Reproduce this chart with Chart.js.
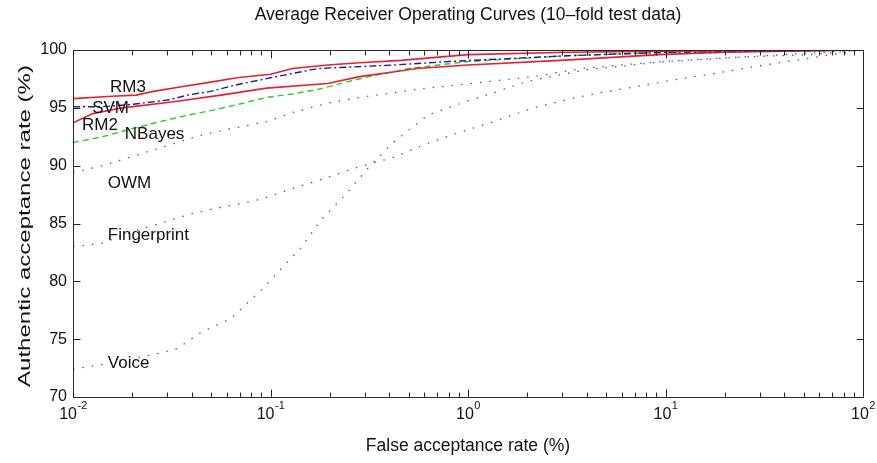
<!DOCTYPE html>
<html><head><meta charset="utf-8">
<script src="https://cdn.jsdelivr.net/npm/chart.js@4.4.1/dist/chart.umd.min.js"></script>
<style>html,body{margin:0;padding:0;background:#fff;}#wrap{width:877px;height:463px;position:relative;}</style>
</head><body><div id="wrap"><canvas id="c"></canvas></div>
<script>
const chartTitle = 'Average Receiver Operating Curves (10\u2013fold test data)';
const xAxisTitle = 'False acceptance rate (%)';
const yAxisTitle = 'Authentic acceptance rate (%)';
const xTickValues = [0.01, 0.1, 1, 10, 100];
const xTickExponents = ['-2', '-1', '0', '1', '2'];
const yTickValues = [70, 75, 80, 85, 90, 95, 100];

const seriesNames = ['RM3', 'SVM', 'RM2', 'NBayes', 'OWM', 'Fingerprint', 'Voice'];

const rm3Far  = [0.01, 0.0158, 0.0209, 0.0251, 0.0347, 0.049, 0.0676, 0.1, 0.129, 0.195, 0.282, 0.457, 1, 3.16, 10, 100];
const rm3Rate = [95.8, 96.0, 96.1, 96.4, 96.8, 97.2, 97.6, 97.9, 98.4, 98.7, 98.9, 99.1, 99.6, 99.8, 99.9, 100];

const svmFar  = [0.01, 0.0141, 0.02, 0.0309, 0.038, 0.049, 0.0676, 0.1, 0.174, 0.417, 0.794, 3.16, 10, 100];
const svmRate = [95.1, 95.1, 95.3, 95.7, 96.1, 96.4, 97.0, 97.6, 98.4, 98.7, 99.0, 99.5, 99.8, 100];

const rm2Far  = [0.01, 0.0126, 0.0178, 0.0316, 0.0562, 0.0955, 0.195, 0.282, 0.417, 0.55, 1, 2.95, 9.33, 20, 100];
const rm2Rate = [93.7, 94.5, 95.0, 95.5, 96.1, 96.7, 97.1, 97.7, 98.1, 98.4, 98.7, 99.1, 99.6, 99.8, 100];

const nbFar  = [0.01, 0.0141, 0.02, 0.0275, 0.0389, 0.0513, 0.0724, 0.0955, 0.129, 0.174, 0.251, 0.316, 0.501, 1, 3.16, 10, 100];
const nbRate = [92.0, 92.5, 93.2, 93.8, 94.4, 94.8, 95.4, 95.9, 96.2, 96.6, 97.3, 97.7, 98.4, 99.0, 99.5, 99.8, 100];

const owmFar  = [0.01, 0.0141, 0.0209, 0.0309, 0.0457, 0.0676, 0.0955, 0.129, 0.195, 0.282, 0.417, 0.617, 0.912, 2.14, 3.8, 9.33, 25.1, 53.7, 100];
const owmRate = [89.4, 90.0, 90.9, 91.8, 92.7, 93.3, 93.8, 94.6, 95.4, 95.9, 96.3, 96.7, 97.0, 97.7, 98.4, 99.0, 99.4, 99.6, 100];

const fpFar  = [0.01, 0.0141, 0.02, 0.0275, 0.0407, 0.0603, 0.0891, 0.129, 0.195, 0.282, 0.417, 0.617, 0.912, 1.35, 2.14, 3.55, 5.01, 6.92, 10, 18.2, 31.6, 53.7, 100];
const fpRate = [83.0, 83.3, 84.3, 85.0, 85.9, 86.5, 87.1, 88.0, 89.0, 89.9, 90.7, 91.9, 92.9, 93.8, 95.0, 95.9, 96.4, 96.8, 97.3, 98.0, 98.7, 99.3, 100];

const voiceFar  = [0.01, 0.0138, 0.02, 0.0275, 0.0339, 0.0437, 0.0631, 0.0891, 0.112, 0.141, 0.182, 0.24, 0.316, 0.417, 0.631, 1, 1.35, 2.0, 3.98, 10, 31.6, 100];
const voiceRate = [72.4, 72.8, 73.3, 73.8, 74.2, 75.5, 76.8, 79.2, 81.0, 82.8, 85.4, 87.5, 89.9, 92.0, 94.4, 95.6, 96.3, 97.3, 98.3, 99.0, 99.5, 100];

// text annotations placed at data coordinates (FAR %, rate %)
const labelFar  = [0.0154, 0.0125, 0.0111, 0.0183, 0.0150, 0.0150, 0.0150];
const labelRate = [96.8, 95.0, 93.5, 92.7, 88.5, 84.0, 72.9];

const pts = (xs, ys) => xs.map((v, i) => ({x: v, y: ys[i]}));
const seriesData = [pts(rm3Far, rm3Rate), pts(svmFar, svmRate), pts(rm2Far, rm2Rate), pts(nbFar, nbRate),
                    pts(owmFar, owmRate), pts(fpFar, fpRate), pts(voiceFar, voiceRate)];
const seriesStyle = [
  {c: 'rgb(232,30,50)', w: 1.6, d: []},
  {c: 'rgb(30,30,150)', w: 1.4, d: [7, 3, 2, 3]},
  {c: 'rgb(232,30,50)', w: 1.6, d: []},
  {c: 'rgb(40,205,40)', w: 1.4, d: [6, 4]},
  {c: 'rgb(80,80,185)', w: 1.3, d: [1.5, 8]},
  {c: 'rgb(80,80,185)', w: 1.3, d: [1.5, 8]},
  {c: 'rgb(80,80,185)', w: 1.3, d: [1.5, 8]}
];

const FONT = "'Liberation Sans', Arial, Helvetica, sans-serif";

const decor = {
  id: 'decor',
  afterDraw(chart) {
    const {ctx, chartArea: a, scales: {x, y}} = chart;
    ctx.save();
    ctx.strokeStyle = '#262626';
    ctx.lineWidth = 1;
    const L = Math.round(a.left) + 0.5, R = Math.round(a.right) + 0.5, T = Math.round(a.top) + 0.5, B = Math.round(a.bottom) + 0.5;
    ctx.strokeRect(L, T, R - L, B - T);
    ctx.beginPath();
    yTickValues.forEach(v => {
      const py = Math.round(y.getPixelForValue(v)) + 0.5;
      ctx.moveTo(L, py); ctx.lineTo(L + 7, py);
      ctx.moveTo(R, py); ctx.lineTo(R - 7, py);
    });
    xTickValues.forEach(d => {
      for (let m = 1; m <= 9; m++) {
        const v = d * m;
        if (v > 100.0001) break;
        const px = Math.round(x.getPixelForValue(v)) + 0.5;
        const len = m === 1 ? 8 : 5;
        ctx.moveTo(px, B); ctx.lineTo(px, B - len);
        ctx.moveTo(px, T); ctx.lineTo(px, T + len);
      }
    });
    ctx.stroke();

    // x tick labels 10^n
    ctx.fillStyle = '#111';
    ctx.textBaseline = 'middle';
    ctx.textAlign = 'left';
    xTickValues.forEach((v, i) => {
      const px = x.getPixelForValue(v);
      ctx.font = '16px ' + FONT;
      const wb = ctx.measureText('10').width;
      ctx.font = '11px ' + FONT;
      const we = ctx.measureText(xTickExponents[i]).width;
      const sx = px - (wb + we) / 2;
      ctx.font = '16px ' + FONT;
      ctx.fillText('10', sx, a.bottom + 18);
      ctx.font = '11px ' + FONT;
      ctx.fillText(xTickExponents[i], sx + wb + 0.5, a.bottom + 9);
    });

    // curve labels
    ctx.font = '17px ' + FONT;
    ctx.fillStyle = '#111';
    seriesNames.forEach((n, i) => {
      ctx.fillText(n, x.getPixelForValue(labelFar[i]), y.getPixelForValue(labelRate[i]));
    });

    // y axis title (stretched like the reference)
    ctx.save();
    ctx.translate(26, 226);
    ctx.rotate(-Math.PI / 2);
    ctx.font = '16px ' + FONT;
    ctx.textAlign = 'center';
    const w = ctx.measureText(yAxisTitle).width;
    ctx.scale(322 / w, 1);
    ctx.fillText(yAxisTitle, 0, 0);
    ctx.restore();
    ctx.restore();
  }
};

new Chart(document.getElementById('c'), {
  type: 'line',
  data: {
    datasets: seriesNames.map((n, i) => ({
      label: n,
      data: seriesData[i],
      borderColor: seriesStyle[i].c,
      borderWidth: seriesStyle[i].w,
      borderDash: seriesStyle[i].d,
      pointRadius: 0,
      tension: 0,
      fill: false
    }))
  },
  options: {
    responsive: true,
    maintainAspectRatio: false,
    animation: false,
    layout: {padding: {left: 0, right: 14, top: 0, bottom: 0}},
    plugins: {
      legend: {display: false},
      tooltip: {enabled: false},
      title: {
        display: true, text: chartTitle, fullSize: false, color: '#111',
        font: {family: FONT, size: 17.5, weight: 'normal', lineHeight: 1.2},
        padding: {top: 5, bottom: 24}
      }
    },
    scales: {
      x: {
        type: 'logarithmic', min: 0.01, max: 100,
        grid: {display: false}, border: {display: false},
        ticks: {display: false},
        afterBuildTicks: s => { s.ticks = xTickValues.map(v => ({value: v})); },
        afterFit: s => { s.height = 66; },
        title: {display: true, text: xAxisTitle, color: '#111', font: {family: FONT, size: 17.5}, padding: {top: 0, bottom: 6}}
      },
      y: {
        min: 70, max: 100,
        grid: {display: false, drawTicks: false}, border: {display: false},
        afterBuildTicks: s => { s.ticks = yTickValues.map(v => ({value: v})); },
        ticks: {color: '#111', padding: 6, font: {family: FONT, size: 16}},
        afterFit: s => { s.width = 73; }
      }
    }
  },
  plugins: [decor]
});
</script>
</body></html>
